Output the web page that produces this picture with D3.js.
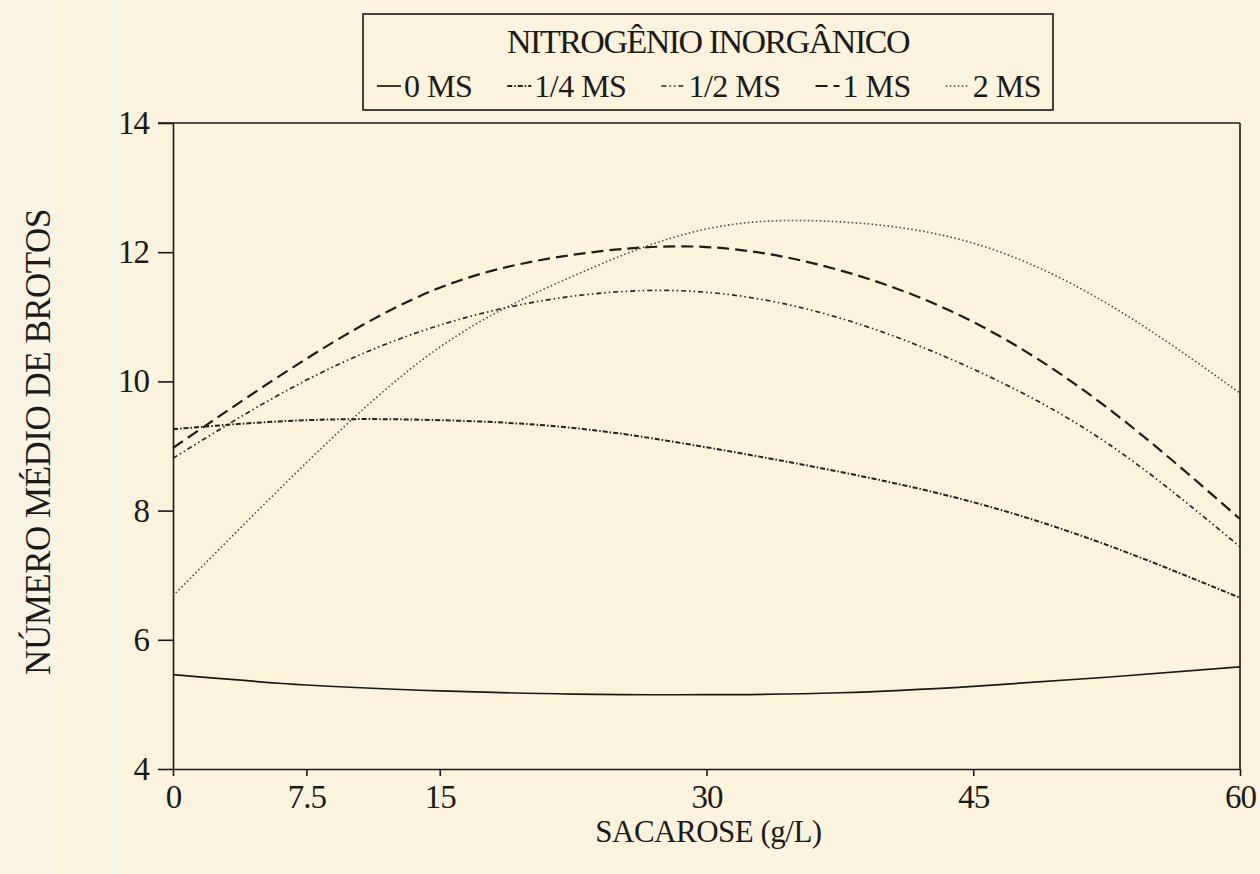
<!DOCTYPE html>
<html>
<head>
<meta charset="utf-8">
<script src="https://cdn.jsdelivr.net/npm/d3@7"></script>
<style>
  body { margin: 0; background: #fcf3dd; }
  svg { display: block; }
  text { font-family: "Liberation Serif", "Times New Roman", serif; fill: #1c1a17; }
</style>
</head>
<body>
<div id="chart"></div>
<script>
const width = 1260;
const height = 874;

const margin = { left: 173, right: 20, top: 123, bottom: 105 };

// data
const sacarose = [0, 7.5, 15, 22.5, 30, 37.5, 45, 52.5, 60];
const ms0  = [5.46, 5.30, 5.21, 5.16, 5.15, 5.18, 5.28, 5.42, 5.58];
const ms14 = [9.26, 9.40, 9.40, 9.28, 8.98, 8.60, 8.13, 7.47, 6.65];
const ms12 = [8.81, 10.02, 10.87, 11.32, 11.38, 10.98, 10.19, 9.05, 7.44];
const ms1  = [8.97, 10.35, 11.45, 11.96, 12.08, 11.72, 10.92, 9.60, 7.87];
const ms2  = [6.68, 8.74, 10.53, 11.63, 12.36, 12.47, 12.14, 11.21, 9.82];

const seriesNames = ["0 MS", "1/4 MS", "1/2 MS", "1 MS", "2 MS"];
const seriesValues = [ms0, ms14, ms12, ms1, ms2];

const xTicks = [0, 7.5, 15, 30, 45, 60];
const yTicks = [4, 6, 8, 10, 12, 14];

const legendTitle = "NITROGÊNIO INORGÂNICO";
const xTitle = "SACAROSE (g/L)";
const yTitle = "NÚMERO MÉDIO DE BROTOS";

const dashes = ["none", "5,2,1.5,2", "5,3,1.5,3,1.5,3", "12,6", "1.5,2.5"];
const strokes = ["#1c1a17", "#24201c", "#2a2622", "#1f1c18", "#4a4540"];
const widths = [1.7, 2.0, 1.7, 2.2, 1.6];

const svg = d3.select("#chart").append("svg")
    .attr("width", width)
    .attr("height", height);

// scan background strips
svg.append("rect").attr("x", 0).attr("y", 0).attr("width", 56).attr("height", height).attr("fill", "#f9f3e3");
svg.append("rect").attr("x", 112).attr("y", 0).attr("width", 8).attr("height", height).attr("fill", "#f4f6ea");

const xScale = d3.scaleLinear()
    .domain([0, 60])
    .range([margin.left, width - margin.right]);

const yScale = d3.scaleLinear()
    .domain([4, 14])
    .range([height - margin.bottom, margin.top]);

const xAxis = svg.append("g")
    .attr("transform", "translate(0," + (height - margin.bottom) + ")")
    .call(d3.axisBottom(xScale).tickValues(xTicks).tickSize(7).tickSizeOuter(0).tickPadding(8)
      .tickFormat(d => d));

const yAxis = svg.append("g")
    .attr("transform", "translate(" + margin.left + ",0)")
    .call(d3.axisLeft(yScale).tickValues(yTicks).tickSize(15).tickSizeOuter(0).tickPadding(9));

[xAxis, yAxis].forEach(a => {
  a.selectAll(".domain").attr("stroke", "#1c1a17").attr("stroke-width", 1.6);
  a.selectAll(".tick line").attr("stroke", "#1c1a17").attr("stroke-width", 1.6);
  a.selectAll(".tick text")
    .style("font-size", "33px")
    .style("font-family", "'Liberation Serif', 'Times New Roman', serif")
    .style("letter-spacing", "-1px")
    .attr("fill", "#1c1a17");
});
xAxis.selectAll(".tick text").attr("dy", "0.72em");
yAxis.selectAll(".tick text").attr("dy", "0.32em");

// top and right frame
svg.append("line")
    .attr("x1", margin.left - 15).attr("x2", xScale(60))
    .attr("y1", yScale(14)).attr("y2", yScale(14))
    .attr("stroke", "#1c1a17").attr("stroke-width", 1.6);
svg.append("line")
    .attr("x1", xScale(60)).attr("x2", xScale(60))
    .attr("y1", yScale(14)).attr("y2", yScale(4))
    .attr("stroke", "#1c1a17").attr("stroke-width", 1.6);

const line = d3.line()
    .curve(d3.curveNatural)
    .x((d, i) => xScale(sacarose[i]))
    .y(d => yScale(d));

svg.selectAll(".curve")
    .data(seriesValues)
    .join("path")
      .attr("class", "curve")
      .attr("fill", "none")
      .attr("stroke", (_, i) => strokes[i])
      .attr("stroke-width", (_, i) => widths[i])
      .attr("stroke-dasharray", (_, i) => dashes[i])
      .attr("d", d => line(d));

// axis titles
svg.append("text")
    .attr("x", (xScale(0) + xScale(60)) / 2 + 2)
    .attr("y", 842)
    .attr("text-anchor", "middle")
    .style("font-size", "31px")
    .style("letter-spacing", "-0.5px")
    .text(xTitle);

svg.append("text")
    .attr("transform", "translate(50," + 442 + ") rotate(-90)")
    .attr("text-anchor", "middle")
    .style("font-size", "35px")
    .style("letter-spacing", "-0.5px")
    .text(yTitle);

// legend
const legend = svg.append("g").attr("class", "legend");
legend.append("rect")
    .attr("x", 363).attr("y", 14)
    .attr("width", 690).attr("height", 96)
    .attr("fill", "none")
    .attr("stroke", "#1c1a17")
    .attr("stroke-width", 1.6);

legend.append("text")
    .attr("x", 708).attr("y", 53)
    .attr("text-anchor", "middle")
    .style("font-size", "34px")
    .style("letter-spacing", "-1.5px")
    .text(legendTitle);

let lx = 377;
seriesNames.forEach((name, i) => {
  legend.append("line")
      .attr("x1", lx).attr("x2", lx + 24)
      .attr("y1", 86).attr("y2", 86)
      .attr("stroke", strokes[i])
      .attr("stroke-width", widths[i])
      .attr("stroke-dasharray", dashes[i]);
  const t = legend.append("text")
      .attr("x", lx + 27).attr("y", 97)
      .style("font-size", "32px")
      .style("letter-spacing", "-0.5px")
      .text(name);
  lx += 27 + t.node().getComputedTextLength() + 35;
});
</script>
</body>
</html>
